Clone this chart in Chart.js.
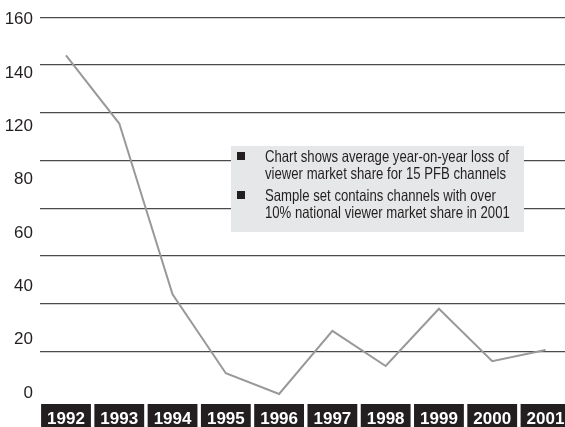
<!DOCTYPE html>
<html>
<head>
<meta charset="utf-8">
<script src="https://cdn.jsdelivr.net/npm/chart.js@4.4.1/dist/chart.umd.min.js"></script>
<style>
  html, body { margin: 0; padding: 0; background: #fff; }
  #wrap { width: 565px; height: 427px; position: relative; }
</style>
</head>
<body>
<div id="wrap"><canvas id="myChart"></canvas></div>
<script>
// data
var years = [1992, 1993, 1994, 1995, 1996, 1997, 1998, 1999, 2000, 2001];
var loss = [144, 115.5, 44, 11, 2.3, 28.7, 14, 38, 16, 20.7];
var gridValues = [20, 40, 60, 80, 100, 120, 140, 160];
var yLabels = ['0', '20', '40', '60', '80', '120', '140', '160'];
var noteItems = [
    ['Chart shows average year-on-year loss of', 'viewer market share for 15 PFB channels'],
    ['Sample set contains channels with over', '10% national viewer market share in 2001']
];

var fuente = "'Liberation Sans', Arial, sans-serif";

// grey note box, text squeezed to look like a narrow face
var notePlugin = {
    id: 'note',
    afterDatasetsDraw: function(chart) {
        var c = chart.ctx;
        c.save();
        c.fillStyle = '#e6e7e8';
        c.fillRect(231, 146, 293, 86);
        c.font = '16.5px ' + fuente;
        c.textBaseline = 'middle';
        var sx = 244 / c.measureText(noteItems[0][0]).width;
        var y = 157.5;
        for (var i = 0; i < noteItems.length; i++) {
            c.fillStyle = '#231f20';
            c.fillRect(237, y - 5.5, 8, 8);
            for (var k = 0; k < noteItems[i].length; k++) {
                c.save();
                c.translate(265, y);
                c.scale(sx, 1);
                c.fillText(noteItems[i][k], 0, 0);
                c.restore();
                y += 17;
            }
            y += 5;
        }
        c.restore();
    }
};

function creargraf() {
    var pts = [];
    for (var i = 0; i < years.length; i++) {
        pts.push({x: years[i], y: loss[i]});
    }
    const ctx = document.getElementById('myChart').getContext('2d');
    const myChart = new Chart(ctx, {
        type: 'line',
        data: {
            datasets: [{
                data: pts,
                borderColor: '#999999',
                borderWidth: 2,
                pointRadius: 0,
                tension: 0,
                fill: false
            }]
        },
        options: {
            responsive: true,
            maintainAspectRatio: false,
            animation: false,
            layout: { padding: { top: 17, left: 0, right: 0, bottom: 0 } },
            plugins: { legend: { display: false }, tooltip: { enabled: false } },
            scales: {
                x: {
                    type: 'linear',
                    min: 1991.512,
                    max: 2001.366,
                    afterBuildTicks: function(axis) {
                        axis.ticks = years.map(function(v) { return {value: v}; });
                    },
                    afterFit: function(axis) {
                        axis.height = 27.5;
                        axis.paddingLeft = 0;
                        axis.paddingRight = 0;
                    },
                    grid: { display: false, drawTicks: false },
                    border: { display: false },
                    ticks: {
                        autoSkip: false,
                        maxRotation: 0,
                        padding: 10,
                        color: '#ffffff',
                        font: { family: fuente, size: 17, weight: 'bold' },
                        showLabelBackdrop: true,
                        backdropColor: '#231f20',
                        backdropPadding: { top: 5.5, bottom: 10, left: 6, right: 6 },
                        callback: function(v) { return String(v); }
                    }
                },
                y: {
                    position: 'left',
                    min: 0,
                    max: 160,
                    afterBuildTicks: function(axis) {
                        axis.ticks = gridValues.map(function(v) { return {value: v}; });
                    },
                    afterFit: function(axis) { axis.width = 0; },
                    grid: { color: '#4a4a4a', lineWidth: 1.3, drawTicks: false },
                    border: { display: false },
                    ticks: { display: false }
                },
                yl: {
                    position: 'left',
                    min: -0.122,
                    max: 7.045,
                    afterBuildTicks: function(axis) {
                        axis.ticks = yLabels.map(function(v, i) { return {value: i}; });
                    },
                    afterFit: function(axis) { axis.width = 40; },
                    grid: { display: false, drawTicks: false },
                    border: { display: false },
                    ticks: {
                        padding: 7,
                        color: '#231f20',
                        font: { family: fuente, size: 17 },
                        callback: function(v, i) { return yLabels[i]; }
                    }
                }
            }
        },
        plugins: [notePlugin]
    });
}

window.onload = function() {
    creargraf();
}
</script>
</body>
</html>
